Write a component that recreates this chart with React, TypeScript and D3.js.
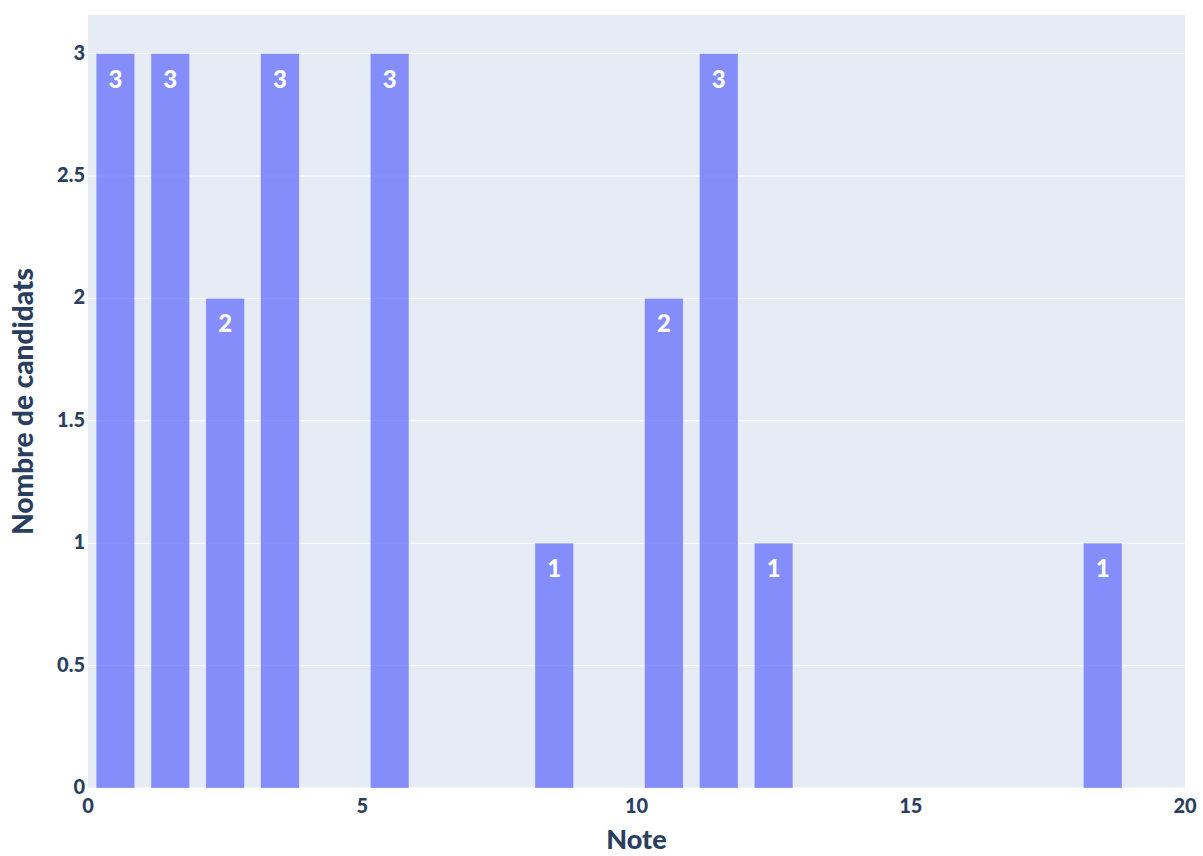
import React from "react";
import * as d3 from "d3";

const binStarts = [0, 1, 2, 3, 5, 8, 10, 11, 12, 18];
const counts = [3, 3, 2, 3, 3, 1, 2, 3, 1, 1];
const xTicks = [0, 5, 10, 15, 20];
const yTicks = [0, 0.5, 1, 1.5, 2, 2.5, 3];
const xTitle = "Note";
const yTitle = "Nombre de candidats";

const W = 1203;
const H = 856;
const M = { left: 88, right: 18, top: 15, bottom: 68 };
const FONT = "Lato, 'Open Sans', sans-serif";
const TXT = "#2a3f5f";

export default function App() {
  const x = d3.scaleLinear().domain([0, 20]).range([M.left, W - M.right]);
  const y = d3.scaleLinear().domain([0, 3.158]).range([H - M.bottom, M.top]);
  const y0 = y(0);
  const gap = 0.3;
  return (
    <svg width={W} height={H} style={{ position: "absolute", left: 0, top: 0 }}>
      <rect x={0} y={0} width={W} height={H} fill="#fff" />
      <rect x={M.left} y={M.top} width={W - M.left - M.right} height={y0 - M.top} fill="#E5ECF6" />
      {yTicks.map((t) => (
        <line key={t} x1={M.left} x2={W - M.right} y1={y(t)} y2={y(t)} stroke="#fff" strokeWidth={1} />
      ))}
      {binStarts.map((b, i) => {
        const x0 = x(b + gap / 2);
        const x1 = x(b + 1 - gap / 2);
        const yt = y(counts[i]);
        return (
          <g key={b}>
            <rect x={x0} y={yt} width={x1 - x0} height={y0 - yt} fill="#636efa" fillOpacity={0.75}
              stroke="#E5ECF6" strokeOpacity={0.5} strokeWidth={0.5} />
            <text x={(x0 + x1) / 2} y={yt + 34} textAnchor="middle" fill="#fff" fontFamily={FONT}
              fontWeight={900} fontSize={24}>{counts[i]}</text>
          </g>
        );
      })}
      {yTicks.map((t) => (
        <text key={t} x={85} y={y(t)} dy="0.3em" textAnchor="end" fill={TXT} fontFamily={FONT}
          fontWeight={900} fontSize={20}>{t}</text>
      ))}
      {xTicks.map((t) => (
        <text key={t} x={x(t)} y={813} textAnchor="middle" fill={TXT} fontFamily={FONT}
          fontWeight={900} fontSize={20}>{t}</text>
      ))}
      <text x={(M.left + W - M.right) / 2} y={849} textAnchor="middle" fill={TXT} fontFamily={FONT}
        fontWeight={900} fontSize={27}>{xTitle}</text>
      <text transform={`translate(33, ${(M.top + y0) / 2}) rotate(-90)`} textAnchor="middle" fill={TXT}
        fontFamily={FONT} fontWeight={900} fontSize={28}>{yTitle}</text>
    </svg>
  );
}
